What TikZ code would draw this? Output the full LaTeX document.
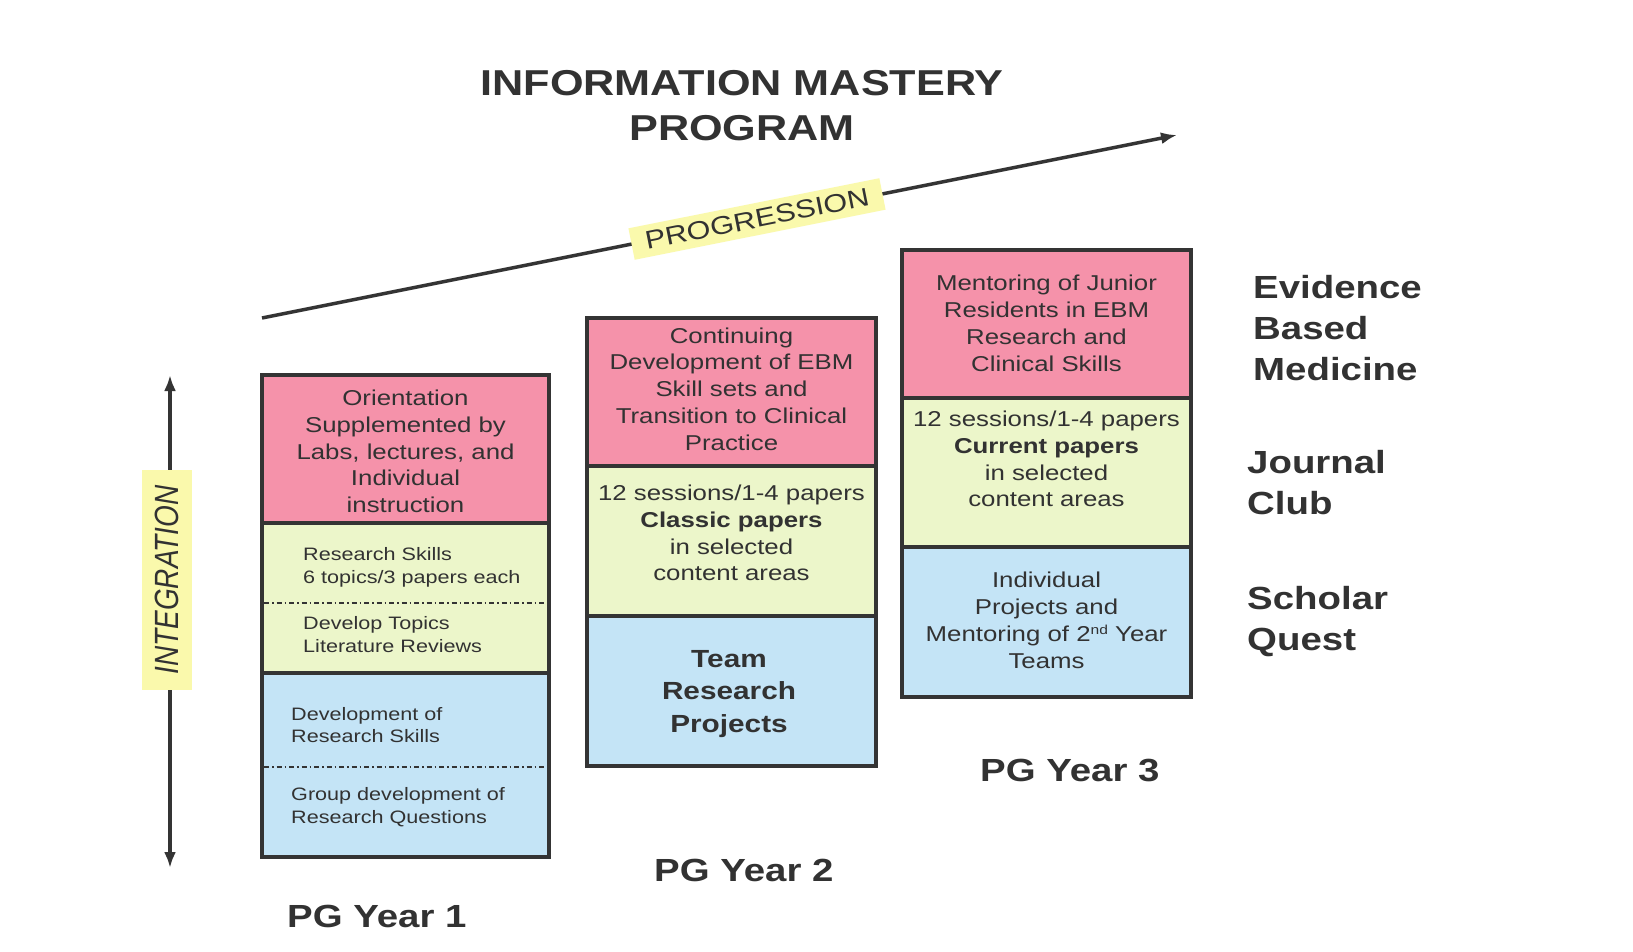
\documentclass[tikz,border=0pt]{standalone}
\usepackage{fontspec}
\setmainfont{Liberation Sans}[FakeStretch=1.2]
\newfontfamily\plainsans{Liberation Sans}
\usetikzlibrary{arrows.meta}
\definecolor{pinkc}{RGB}{245,146,170}
\definecolor{greenc}{RGB}{236,246,202}
\definecolor{bluec}{RGB}{196,228,246}
\definecolor{yellowc}{RGB}{250,249,172}
\definecolor{bordc}{RGB}{52,52,52}
\definecolor{textc}{RGB}{50,50,50}
\begin{document}
\begin{tikzpicture}[x=1pt,y=-1pt,
  region/.style={draw=bordc, line width=4pt},
  body/.style={text=textc, inner sep=0pt, align=center, font=\fontsize{21.5}{26.8}\selectfont},
  bodybold/.style={text=textc, inner sep=0pt, align=center, font=\bfseries\fontsize{24.8}{32.5}\selectfont},
  small/.style={text=textc, inner sep=0pt, align=left, anchor=west, font=\fontsize{18}{22.5}\selectfont},
  side/.style={text=textc, inner sep=0pt, align=left, anchor=west, font=\bfseries\fontsize{32}{41}\selectfont},
  year/.style={text=textc, inner sep=0pt, anchor=base west, font=\bfseries\fontsize{32}{38}\selectfont},
  dashdot/.style={draw=bordc, line width=1.3pt, dash pattern=on 5pt off 3pt on 1.5pt off 3pt},
  arr/.style={draw=bordc, line width=3.5pt},
  tip/.style={Latex[length=16pt,width=12pt]}
]
\useasboundingbox (0,0) rectangle (1633,951);
\fill[white] (0,0) rectangle (1633,951);

% title
\node[text=textc, inner sep=0pt, align=center, font=\bfseries\fontsize{36}{45}\selectfont] (title) at (742,105.5) {INFORMATION MASTERY\\PROGRAM};

% progression arrow
\coordinate (pstart) at (262,318);
\coordinate (pend) at (1177,135);
\draw[arr, -{Latex[length=16pt,width=12pt]}] (pstart) -- (pend);
\node[fill=yellowc, rotate=11.3, inner xsep=14pt, inner ysep=7pt, text=textc, font=\fontsize{25.5}{26}\selectfont] (prog) at (757,219) {PROGRESSION};

% integration arrow
\coordinate (itop) at (170,375);
\coordinate (ibot) at (170,868);
\draw[arr, {Latex[length=16pt,width=12pt]}-{Latex[length=16pt,width=12pt]}] (itop) -- (ibot);
\node[xscale=1.2, rotate=90, fill=yellowc, minimum width=220, minimum height=42, inner sep=0pt, text=textc, font=\plainsans\itshape\fontsize{28}{28}\selectfont] (integ) at (167,580) {INTEGRATION};

% box 1
\filldraw[region, fill=pinkc] (262,375) rectangle (549,523);
\filldraw[region, fill=greenc] (262,523) rectangle (549,673);
\filldraw[region, fill=bluec] (262,673) rectangle (549,857);
\draw[dashdot] (264,603) -- (547,603);
\draw[dashdot] (264,767) -- (547,767);
\node[body] (b1p) at (405.5,451.5) {Orientation\\Supplemented by\\Labs, lectures, and\\Individual\\instruction};
\node[small] (b1g1) at (303,567.5) {Research Skills\\6 topics/3 papers each};
\node[small] (b1g2) at (303,634.5) {Develop Topics\\Literature Reviews};
\node[small] (b1b1) at (291,725) {Development of\\Research Skills};
\node[small] (b1b2) at (291,807) {Group development of\\Research Questions};

% box 2
\filldraw[region, fill=pinkc] (587,318) rectangle (876,466);
\filldraw[region, fill=greenc] (587,466) rectangle (876,616);
\filldraw[region, fill=bluec] (587,616) rectangle (876,766);
\node[body] (b2p) at (731.5,389) {Continuing\\Development of EBM\\Skill sets and\\Transition to Clinical\\Practice};
\node[body] (b2g) at (731.5,533) {12 sessions/1-4 papers\\\textbf{Classic papers}\\in selected\\content areas};
\node[bodybold] (b2b) at (729,694) {Team\\Research\\Projects};

% box 3
\filldraw[region, fill=pinkc] (902,250) rectangle (1191,398);
\filldraw[region, fill=greenc] (902,398) rectangle (1191,547);
\filldraw[region, fill=bluec] (902,547) rectangle (1191,697);
\node[body] (b3p) at (1046.5,323.5) {Mentoring of Junior\\Residents in EBM\\Research and\\Clinical Skills};
\node[body] (b3g) at (1046.5,459) {12 sessions/1-4 papers\\\textbf{Current papers}\\in selected\\content areas};
\node[body] (b3b) at (1046.5,620.5) {Individual\\Projects and\\Mentoring of 2\raisebox{7pt}{\fontsize{13}{13}\selectfont nd} Year\\Teams};

% side labels
\node[side] (ebm) at (1253,328) {Evidence\\Based\\Medicine};
\node[side] (jc) at (1247,483) {Journal\\Club};
\node[side] (sq) at (1247,622) {Scholar\\Quest};

% year labels
\node[year] (y1) at (287,927) {PG Year 1};
\node[year] (y2) at (654,881) {PG Year 2};
\node[year] (y3) at (980,781) {PG Year 3};
\end{tikzpicture}
\end{document}
